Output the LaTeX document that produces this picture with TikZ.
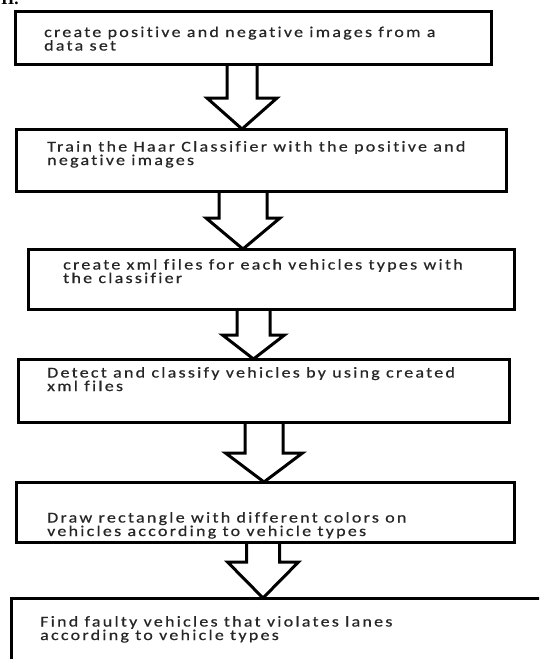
\documentclass[tikz,border=0pt]{standalone}
\usepackage{fontspec}
\setmainfont{Carlito}[LetterSpace=15, FakeStretch=1.2, FakeBold=0.6, RawFeature={-liga}]
\newfontfamily\hdrfont{Liberation Serif}
\usetikzlibrary{calc}
\tikzset{
  box/.style={draw=black, line width=3pt, inner sep=0pt, outer sep=0pt},
  txt/.style={font=\fontsize{15}{13.5}\selectfont, align=left, inner sep=0pt, anchor=base west, text=black!85},
  blockarr/.style={draw=black, line width=3pt, line join=miter}
}
\newcommand\blockarrow[6]{% from, to, cx, shaft half, head y, head half
  \draw[blockarr] let \p1=(#1.south), \p2=(#2.north) in
    ({(#3-#4)*1pt},\y1) -- ({(#3-#4)*1pt},{-#5*1pt}) -- ({(#3-#6)*1pt},{-#5*1pt})
    -- ({#3*1pt},\y2) -- ({(#3+#6)*1pt},{-#5*1pt}) -- ({(#3+#4)*1pt},{-#5*1pt})
    -- ({(#3+#4)*1pt},\y1);}
\begin{document}
\begin{tikzpicture}[x=1pt,y=-1pt]
\useasboundingbox (0,0) rectangle (539,659);
\clip (0,0) rectangle (539,659);
\node[font=\hdrfont\bfseries\fontsize{17}{17}\selectfont, inner sep=0pt, anchor=base west] (hdr) at (1,4) {II.};
% boxes
\node[box, minimum width=476pt, minimum height=53pt] (b1) at (253,37.5) {};
\node[box, minimum width=490pt, minimum height=62pt] (b2) at (261,160) {};
\node[box, minimum width=486pt, minimum height=60pt] (b3) at (271,279) {};
\node[box, minimum width=491pt, minimum height=63pt] (b4) at (263.5,390.5) {};
\node[box, minimum width=498pt, minimum height=60pt] (b5) at (265,512) {};
\node[box, minimum width=549pt, minimum height=102pt] (b6) at (285.5,649) {};
% texts (anchor = baseline of the last line)
\node[txt] (t1) at (44,50.5) {create positive and negative images from a\\data set};
\node[txt] (t2) at (47,165) {Train the Haar Classifier with the positive and\\negative images};
\node[txt] (t3) at (63,283) {create xml files for each vehicles types with\\the classifier};
\node[txt] (t4) at (47,391) {Detect and classify vehicles by using created\\xml files};
\begin{scope}
  \clip (18,484) rectangle (512,538.5);
  \node[txt] (t5) at (47,536) {Draw rectangle with different colors on\\vehicles according to vehicle types};
\end{scope}
\node[txt] (t6) at (40,640) {Find faulty vehicles that violates lanes\\according to vehicle types};
% arrows
\blockarrow{b1}{b2}{242}{15}{98}{35}
\blockarrow{b2}{b3}{243}{24}{218}{37}
\blockarrow{b3}{b4}{253.5}{16.5}{335}{31}
\blockarrow{b4}{b5}{264}{19}{453}{38.5}
\blockarrow{b5}{b6}{263}{16.5}{562}{35.5}
\end{tikzpicture}
\end{document}
